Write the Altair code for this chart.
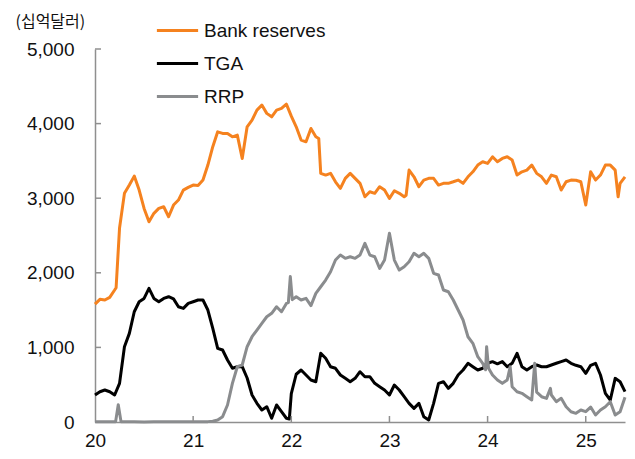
import altair as alt
import pandas as pd

# ---------------- data (billions of USD), x in decimal years ----------------
res_t = [2020.00, 2020.05, 2020.10, 2020.15, 2020.20, 2020.215, 2020.25, 2020.30, 2020.35, 2020.40,
         2020.45, 2020.50, 2020.55, 2020.60, 2020.65, 2020.70, 2020.75, 2020.80, 2020.85, 2020.90,
         2020.95, 2021.00, 2021.05, 2021.10, 2021.15, 2021.20, 2021.25, 2021.30, 2021.35, 2021.40,
         2021.45, 2021.50, 2021.55, 2021.60, 2021.65, 2021.70, 2021.75, 2021.80, 2021.85, 2021.90,
         2021.95, 2022.00, 2022.05, 2022.10, 2022.15, 2022.20, 2022.25, 2022.28, 2022.30, 2022.35,
         2022.40, 2022.45, 2022.50, 2022.55, 2022.60, 2022.65, 2022.70, 2022.75, 2022.80, 2022.85,
         2022.90, 2022.95, 2023.00, 2023.05, 2023.10, 2023.15, 2023.17, 2023.20, 2023.25, 2023.30,
         2023.35, 2023.40, 2023.45, 2023.50, 2023.55, 2023.60, 2023.65, 2023.70, 2023.75, 2023.80,
         2023.85, 2023.90, 2023.95, 2024.00, 2024.05, 2024.10, 2024.15, 2024.20, 2024.25, 2024.30,
         2024.35, 2024.40, 2024.45, 2024.50, 2024.55, 2024.60, 2024.65, 2024.70, 2024.75, 2024.80,
         2024.85, 2024.90, 2024.95, 2025.00, 2025.05, 2025.10, 2025.15, 2025.20, 2025.25, 2025.30,
         2025.33, 2025.35, 2025.40]
res_v = [1580, 1644, 1635, 1671, 1769, 1800, 2600, 3065, 3176, 3296,
         3109, 2863, 2684, 2797, 2863, 2885, 2751, 2908, 2975, 3109,
         3145, 3176, 3170, 3243, 3444, 3690, 3890, 3868, 3868, 3823,
         3845, 3533, 3957, 4047, 4181, 4248, 4137, 4091, 4181, 4204,
         4261, 4100, 3957, 3779, 3756, 3935, 3823, 3800, 3333, 3310,
         3333, 3220, 3132, 3266, 3333, 3266, 3199, 3019, 3086, 3065,
         3154, 3109, 2997, 3100, 3065, 3019, 3040, 3377, 3287, 3154,
         3243, 3266, 3266, 3176, 3199, 3199, 3220, 3243, 3199, 3287,
         3354, 3444, 3488, 3466, 3555, 3488, 3533, 3555, 3511, 3310,
         3354, 3377, 3444, 3333, 3287, 3199, 3310, 3287, 3109, 3220,
         3243, 3240, 3220, 2908, 3354, 3243, 3310, 3444, 3444, 3377,
         3019, 3199, 3287]

tga_t = [2020.00, 2020.05, 2020.10, 2020.15, 2020.20, 2020.25, 2020.30, 2020.35, 2020.40, 2020.45,
         2020.50, 2020.55, 2020.60, 2020.65, 2020.70, 2020.75, 2020.80, 2020.85, 2020.90, 2020.95,
         2021.00, 2021.05, 2021.10, 2021.15, 2021.20, 2021.25, 2021.30, 2021.35, 2021.40, 2021.45,
         2021.50, 2021.55, 2021.60, 2021.65, 2021.70, 2021.75, 2021.80, 2021.85, 2021.90, 2021.95,
         2021.98, 2022.00, 2022.05, 2022.10, 2022.15, 2022.20, 2022.25, 2022.30, 2022.35, 2022.40,
         2022.45, 2022.50, 2022.55, 2022.60, 2022.65, 2022.70, 2022.75, 2022.80, 2022.85, 2022.90,
         2022.95, 2023.00, 2023.05, 2023.10, 2023.15, 2023.20, 2023.25, 2023.30, 2023.35, 2023.40,
         2023.45, 2023.50, 2023.55, 2023.60, 2023.65, 2023.70, 2023.75, 2023.80, 2023.85, 2023.90,
         2023.95, 2024.00, 2024.05, 2024.10, 2024.15, 2024.20, 2024.25, 2024.30, 2024.35, 2024.40,
         2024.45, 2024.50, 2024.55, 2024.60, 2024.65, 2024.70, 2024.75, 2024.80, 2024.85, 2024.90,
         2024.95, 2025.00, 2025.05, 2025.10, 2025.15, 2025.20, 2025.25, 2025.30, 2025.35, 2025.40]
tga_v = [362, 406, 429, 406, 362, 518, 1009, 1188, 1478, 1612,
         1657, 1791, 1657, 1612, 1657, 1679, 1650, 1545, 1523, 1590,
         1612, 1635, 1635, 1501, 1256, 988, 965, 831, 720, 741,
         741, 590, 362, 250, 161, 205, 50, 228, 138, 50,
         40, 380, 640, 697, 630, 563, 540, 921, 854, 741,
         720, 630, 585, 540, 585, 674, 607, 607, 518, 473,
         429, 362, 496, 429, 339, 250, 183, 250, 71, 27,
         250, 518, 540, 451, 518, 630, 697, 787, 741, 697,
         720, 787, 809, 780, 809, 741, 787, 921, 741, 697,
         741, 764, 741, 741, 764, 787, 809, 831, 787, 760,
         741, 652, 760, 787, 630, 384, 295, 585, 540, 406]

rrp_t = [2020.00, 2020.05, 2020.10, 2020.15, 2020.21, 2020.237, 2020.265, 2020.30, 2020.40, 2020.50,
         2020.60, 2020.70, 2020.80, 2020.90, 2021.00, 2021.10, 2021.15, 2021.20, 2021.25, 2021.30,
         2021.35, 2021.40, 2021.45, 2021.50, 2021.55, 2021.60, 2021.65, 2021.70, 2021.75, 2021.80,
         2021.85, 2021.90, 2021.95, 2021.97, 2021.99, 2022.01, 2022.05, 2022.10, 2022.15, 2022.20,
         2022.25, 2022.30, 2022.35, 2022.40, 2022.45, 2022.50, 2022.55, 2022.60, 2022.65, 2022.70,
         2022.75, 2022.80, 2022.85, 2022.90, 2022.95, 2023.00, 2023.05, 2023.10, 2023.15, 2023.20,
         2023.25, 2023.30, 2023.35, 2023.40, 2023.45, 2023.50, 2023.55, 2023.60, 2023.65, 2023.70,
         2023.75, 2023.80, 2023.85, 2023.90, 2023.95, 2023.98, 2023.99, 2024.01, 2024.05, 2024.10,
         2024.15, 2024.20, 2024.23, 2024.25, 2024.30, 2024.35, 2024.40, 2024.45, 2024.48, 2024.50,
         2024.55, 2024.60, 2024.64, 2024.65, 2024.70, 2024.75, 2024.80, 2024.85, 2024.90, 2024.95,
         2025.00, 2025.05, 2025.10, 2025.15, 2025.20, 2025.25, 2025.30, 2025.35, 2025.40]
rrp_v = [5, 5, 3, 5, 5, 230, 5, 3, 2, 1,
         2, 3, 2, 4, 5, 4, 5, 10, 27, 71,
         228, 518, 741, 764, 1009, 1143, 1233, 1322, 1411, 1457,
         1545, 1478, 1590, 1600, 1950, 1640, 1679, 1635, 1657, 1560,
         1724, 1813, 1903, 2014, 2171, 2238, 2194, 2215, 2194, 2238,
         2395, 2238, 2215, 2059, 2171, 2529, 2171, 2037, 2081, 2149,
         2261, 2215, 2261, 2194, 1993, 1970, 1769, 1746, 1635, 1501,
         1367, 1143, 1055, 875, 787, 700, 1009, 720, 630, 563,
         518, 563, 741, 473, 406, 384, 339, 295, 787, 400,
         339, 317, 451, 362, 272, 317, 205, 138, 116, 161,
         138, 200, 94, 161, 205, 272, 94, 138, 331]

series_names = ["Bank reserves", "TGA", "RRP"]
series_colors = ["#F5821F", "#000000", "#8A8C8E"]

x_ticks = [2020, 2021, 2022, 2023, 2024, 2025]
y_ticks = [0, 1000, 2000, 3000, 4000, 5000]

rows = []
for name, ts, vs in zip(series_names, [res_t, tga_t, rrp_t], [res_v, tga_v, rrp_v]):
    for t, v in zip(ts, vs):
        rows.append({"t": t, "v": v, "series": name})
df = pd.DataFrame(rows)

axis_color = "#8F8F8F"
label_font = "Liberation Sans"

x_scale = alt.Scale(domain=[2020, 2025.4], nice=False, zero=False)
y_scale = alt.Scale(domain=[0, 5000], nice=False)

x_axis = alt.Axis(values=x_ticks, labelExpr="substring(toString(datum.value), 2)",
                  title=None, grid=False, ticks=False, domainColor=axis_color,
                  domainWidth=1.5, labelFont=label_font, labelFontSize=19,
                  labelColor="#111111", labelPadding=9, labelFlush=False)
y_axis = alt.Axis(values=y_ticks, labelExpr="format(datum.value, ',')", title="(십억달러)",
                  titleAngle=0, titleX=-80, titleY=-28, titleAlign="left", titleBaseline="middle",
                  titleFont="Noto Sans CJK KR", titleFontSize=16, titleFontWeight="normal",
                  titleColor="#111111", grid=False, ticks=False, domainColor=axis_color,
                  domainWidth=1.5, labelFont=label_font, labelFontSize=19,
                  labelColor="#111111", labelPadding=21)

lines = alt.Chart(df).mark_line(strokeWidth=3, strokeJoin="round").encode(
    x=alt.X("t:Q", scale=x_scale, axis=x_axis),
    y=alt.Y("v:Q", scale=y_scale, axis=y_axis),
    color=alt.Color("series:N", scale=alt.Scale(domain=series_names, range=series_colors),
                    legend=alt.Legend(orient="none", legendX=60, legendY=-41, title=None,
                                      symbolType="stroke", symbolStrokeWidth=3, symbolSize=1700,
                                      labelFont=label_font, labelFontSize=19, labelColor="#111111",
                                      labelOffset=4, rowPadding=0, padding=0)),
)

ytick = alt.Chart(pd.DataFrame({"v": y_ticks[1:]})).mark_rule(color=axis_color, strokeWidth=1.5).encode(
    y=alt.Y("v:Q", scale=y_scale, axis=y_axis), x=alt.value(0), x2=alt.value(6))
xtick = alt.Chart(pd.DataFrame({"t": x_ticks[1:]})).mark_rule(color=axis_color, strokeWidth=1.5).encode(
    x=alt.X("t:Q", scale=x_scale, axis=x_axis), y=alt.value(373), y2=alt.value(367))

chart = alt.layer(lines, ytick, xtick).properties(
    width=530, height=373,
    autosize=alt.AutoSizeParams(type="none"),
    padding={"left": 87, "top": 41, "right": 2, "bottom": 30},
).configure_view(stroke=None)

chart.save("out.html", embed_options={"renderer": "svg", "actions": False})
